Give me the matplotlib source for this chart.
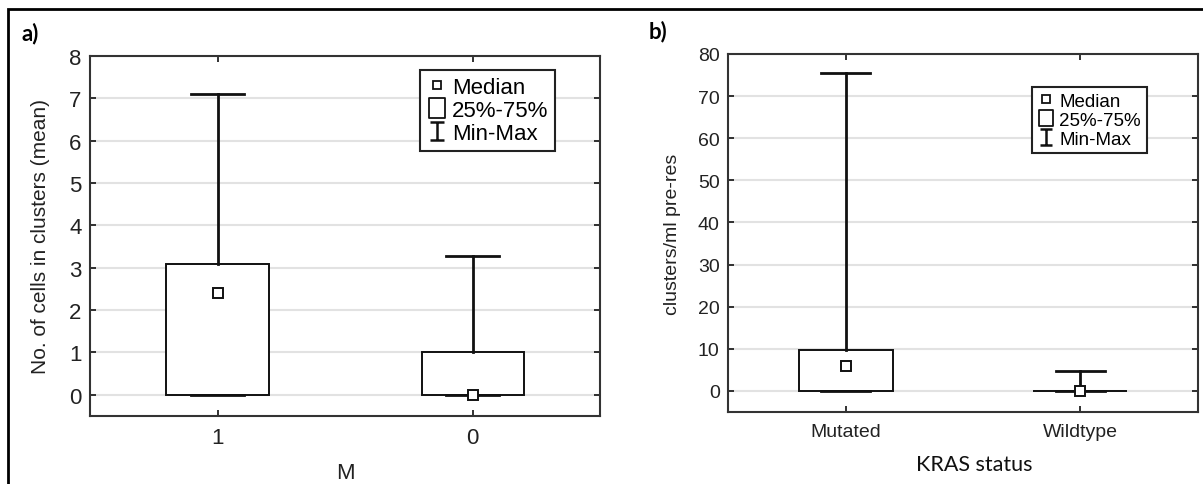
import matplotlib
matplotlib.use("Agg")
import matplotlib.pyplot as plt
from matplotlib.lines import Line2D
from matplotlib.path import Path
from matplotlib.patches import Rectangle

# panel a) data: M status
a_labels = ["1", "0"]
a_min = [0.0, 0.0]
a_q1 = [0.0, 0.0]
a_med = [2.4, 0.0]
a_q3 = [3.1, 1.0]
a_max = [7.1, 3.27]
a_yticks = [0, 1, 2, 3, 4, 5, 6, 7, 8]

# panel b) data: KRAS status
b_labels = ["Mutated", "Wildtype"]
b_min = [0.0, 0.0]
b_q1 = [0.0, 0.0]
b_med = [6.0, 0.0]
b_q3 = [9.8, 0.0]
b_max = [75.5, 4.7]
b_yticks = [0, 10, 20, 30, 40, 50, 60, 70, 80]

plt.rcParams['font.family'] = ['Liberation Sans', 'DejaVu Sans']

# I-shaped marker for Min-Max and tall rect for 25%-75%
I_PATH = Path([(-0.8, -1), (0.8, -1), (0, -1), (0, 1), (-0.8, 1), (0.8, 1)],
              [Path.MOVETO, Path.LINETO, Path.MOVETO, Path.LINETO, Path.MOVETO, Path.LINETO])
R_PATH = Path([(-0.42, -0.5), (0.42, -0.5), (0.42, 0.5), (-0.42, 0.5), (-0.42, -0.5)],
              [Path.MOVETO, Path.LINETO, Path.LINETO, Path.LINETO, Path.CLOSEPOLY])


def draw(ax, labels, vmin, q1, med, q3, vmax, yticks, ylim, tick_fs, leg_fs, leg_anchor, msz):
    stats = []
    for i in range(len(labels)):
        stats.append(dict(med=med[i], q1=q1[i], q3=q3[i], whislo=vmin[i], whishi=vmax[i], fliers=[]))
    ax.bxp(stats, positions=[1, 2], widths=0.4, capwidths=0.21, patch_artist=True,
           showfliers=False,
           boxprops=dict(facecolor='white', edgecolor='#111111', linewidth=1.4),
           whiskerprops=dict(color='#111111', linewidth=2.0),
           capprops=dict(color='#111111', linewidth=2.0),
           medianprops=dict(linewidth=0), zorder=3)
    ax.plot([1, 2], med, linestyle='none', marker='s', markersize=msz[0],
            markerfacecolor='white', markeredgecolor='#111111', markeredgewidth=1.4, zorder=5)
    ax.set_xlim(0.5, 2.5)
    ax.set_ylim(*ylim)
    ax.set_xticks([1, 2])
    ax.set_xticklabels(labels)
    ax.set_yticks(yticks)
    ax.yaxis.grid(True, color='#e2e2e2', linewidth=1.5, zorder=0)
    ax.set_axisbelow(True)
    ax.tick_params(direction='in', length=4, width=1.3, top=True, right=True,
                   labelsize=tick_fs, colors='#222222')
    ax.tick_params(axis='x', pad=8)
    ax.tick_params(axis='y', pad=6)
    for s in ax.spines.values():
        s.set_linewidth(1.5)
        s.set_color('#333333')
    handles = [
        Line2D([], [], linestyle='none', marker='s', markersize=msz[1], markerfacecolor='white',
               markeredgecolor='#111111', markeredgewidth=1.3),
        Line2D([], [], linestyle='none', marker=R_PATH, markersize=msz[2], markerfacecolor='white',
               markeredgecolor='#111111', markeredgewidth=1.3),
        Line2D([], [], linestyle='none', marker=I_PATH, markersize=msz[3], markerfacecolor='none',
               markeredgecolor='#111111', markeredgewidth=1.8),
    ]
    leg = ax.legend(handles, ["Median", "25%-75%", "Min-Max"], loc='upper left',
                    bbox_to_anchor=leg_anchor, fontsize=leg_fs, frameon=True, fancybox=False,
                    framealpha=1, edgecolor='#222222', handlelength=0.9, handletextpad=0.25,
                    labelspacing=0.1, borderpad=0.3, borderaxespad=0)
    leg.get_frame().set_linewidth(1.5)


fig = plt.figure(figsize=(12.03, 4.85), dpi=100)
ax1 = fig.add_axes([0.0748, 0.1402, 0.4240, 0.7423])
ax2 = fig.add_axes([0.6052, 0.1485, 0.3906, 0.7381])

draw(ax1, a_labels, a_min, a_q1, a_med, a_q3, a_max, a_yticks, (-0.5, 8), 16, 16,
     (0.647, 0.961), (7, 6, 14, 13))
ax1.set_ylabel("No. of cells in clusters (mean)", fontsize=15, color='#222222')
ax1.yaxis.set_label_coords(-0.078, 0.5)
ax1.set_xlabel("M", fontsize=16, color='#222222')
ax1.xaxis.set_label_coords(0.5, -0.128)

draw(ax2, b_labels, b_min, b_q1, b_med, b_q3, b_max, b_yticks, (-5, 80), 14, 13.5,
     (0.647, 0.908), (6.5, 5.5, 12, 11))
ax2.set_ylabel("clusters/ml pre-res", fontsize=14, color='#222222')
ax2.yaxis.set_label_coords(-0.1, 0.5)
ax2.set_xlabel("KRAS status", fontsize=15.5, fontfamily=['Lato', 'DejaVu Sans'], color='#111111')
ax2.xaxis.set_label_coords(0.523, -0.118)

fig.text(22 / 1203, 1 - 34 / 485, "a)", fontsize=16, fontweight='bold',
         fontfamily=['Lato', 'DejaVu Sans'], va='center', ha='left')
fig.text(649 / 1203, 1 - 32 / 485, "b)", fontsize=16, fontweight='bold',
         fontfamily=['Lato', 'DejaVu Sans'], va='center', ha='left')

# outer frame (only left and top edges visible in the original)
fig.patches.append(Rectangle((8 / 1203, -0.2), 1.2, 1.2 + (1 - 10 / 485) - 1.0,
                             transform=fig.transFigure, fill=False, edgecolor='black',
                             linewidth=2, clip_on=False))

fig.savefig("out.png", dpi=100)
